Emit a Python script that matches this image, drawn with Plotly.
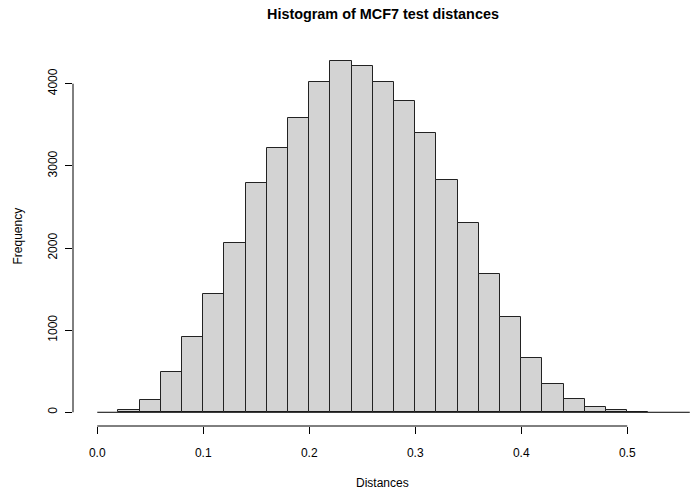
import plotly.graph_objects as go

# Histogram of MCF7 test distances: bins of width 0.02 from 0.02 to 0.52
bin_starts = [0.02, 0.04, 0.06, 0.08, 0.10, 0.12, 0.14, 0.16, 0.18, 0.20,
              0.22, 0.24, 0.26, 0.28, 0.30, 0.32, 0.34, 0.36, 0.38, 0.40,
              0.42, 0.44, 0.46, 0.48, 0.50]
bin_width = 0.02
counts = [30, 155, 485, 920, 1445, 2065, 2790, 3220, 3580, 4020,
          4280, 4210, 4020, 3790, 3395, 2830, 2305, 1685, 1165, 655,
          340, 165, 60, 25, 8]

x_ticks = [0.0, 0.1, 0.2, 0.3, 0.4, 0.5]
x_tick_labels = ["0.0", "0.1", "0.2", "0.3", "0.4", "0.5"]
y_ticks = [0, 1000, 2000, 3000, 4000]
y_tick_labels = ["0", "1000", "2000", "3000", "4000"]

FONT = "Liberation Sans, Arial, sans-serif"

fig = go.Figure()
fig.add_trace(go.Bar(
    x=[s + bin_width / 2 for s in bin_starts],
    y=counts,
    width=bin_width,
    marker=dict(color="#D3D3D3", line=dict(color="#222222", width=1)),
    hoverinfo="x+y",
))

fig.update_layout(
    width=700, height=500,
    margin=dict(l=73, r=8, t=47, b=74),
    paper_bgcolor="white", plot_bgcolor="white",
    showlegend=False,
    bargap=0,
    font=dict(family=FONT, size=12, color="#000000"),
    xaxis=dict(
        range=[-0.0229, 0.5611],
        tickvals=x_ticks, ticktext=x_tick_labels,
        ticks="outside", ticklen=7, tickwidth=1, tickcolor="#000000",
        showgrid=False, zeroline=False, showline=False,
        ticklabelstandoff=9,
        tickfont=dict(size=12, family=FONT, color="#000000"),
    ),
    yaxis=dict(
        range=[-167, 4447],
        tickvals=y_ticks, ticktext=y_tick_labels,
        ticks="outside", ticklen=7, tickwidth=1, tickcolor="#000000",
        tickangle=-90,
        showgrid=False, zeroline=False, showline=False,
        ticklabelstandoff=3,
        tickfont=dict(size=12, family=FONT, color="#000000"),
    ),
    shapes=[
        # axis lines spanning only the tick range
        dict(type="line", xref="x", yref="paper", x0=x_ticks[0], x1=x_ticks[-1],
             y0=0, y1=0, line=dict(color="#000000", width=1)),
        dict(type="line", xref="paper", yref="y", x0=0, x1=0,
             y0=y_ticks[0], y1=y_ticks[-1], line=dict(color="#000000", width=1)),
        # baseline under the bars
        dict(type="line", xref="x", yref="y", x0=0, x1=0.559, y0=0, y1=0,
             line=dict(color="#000000", width=1), layer="above"),
    ],
    annotations=[
        dict(text="<b>Histogram of MCF7 test distances</b>", xref="paper", yref="paper",
             x=0.5, y=1, yshift=33, xanchor="center", yanchor="middle",
             showarrow=False, font=dict(size=14.4, family=FONT, color="#000000")),
        dict(text="Distances", xref="paper", yref="paper",
             x=0.5, y=0, yshift=-57, xanchor="center", yanchor="middle",
             showarrow=False, font=dict(size=12, family=FONT, color="#000000")),
        dict(text="Frequency", xref="paper", yref="paper",
             x=0, y=0.5, xshift=-56, xanchor="center", yanchor="middle",
             textangle=-90,
             showarrow=False, font=dict(size=12, family=FONT, color="#000000")),
    ],
)

fig.write_html("out.html")
